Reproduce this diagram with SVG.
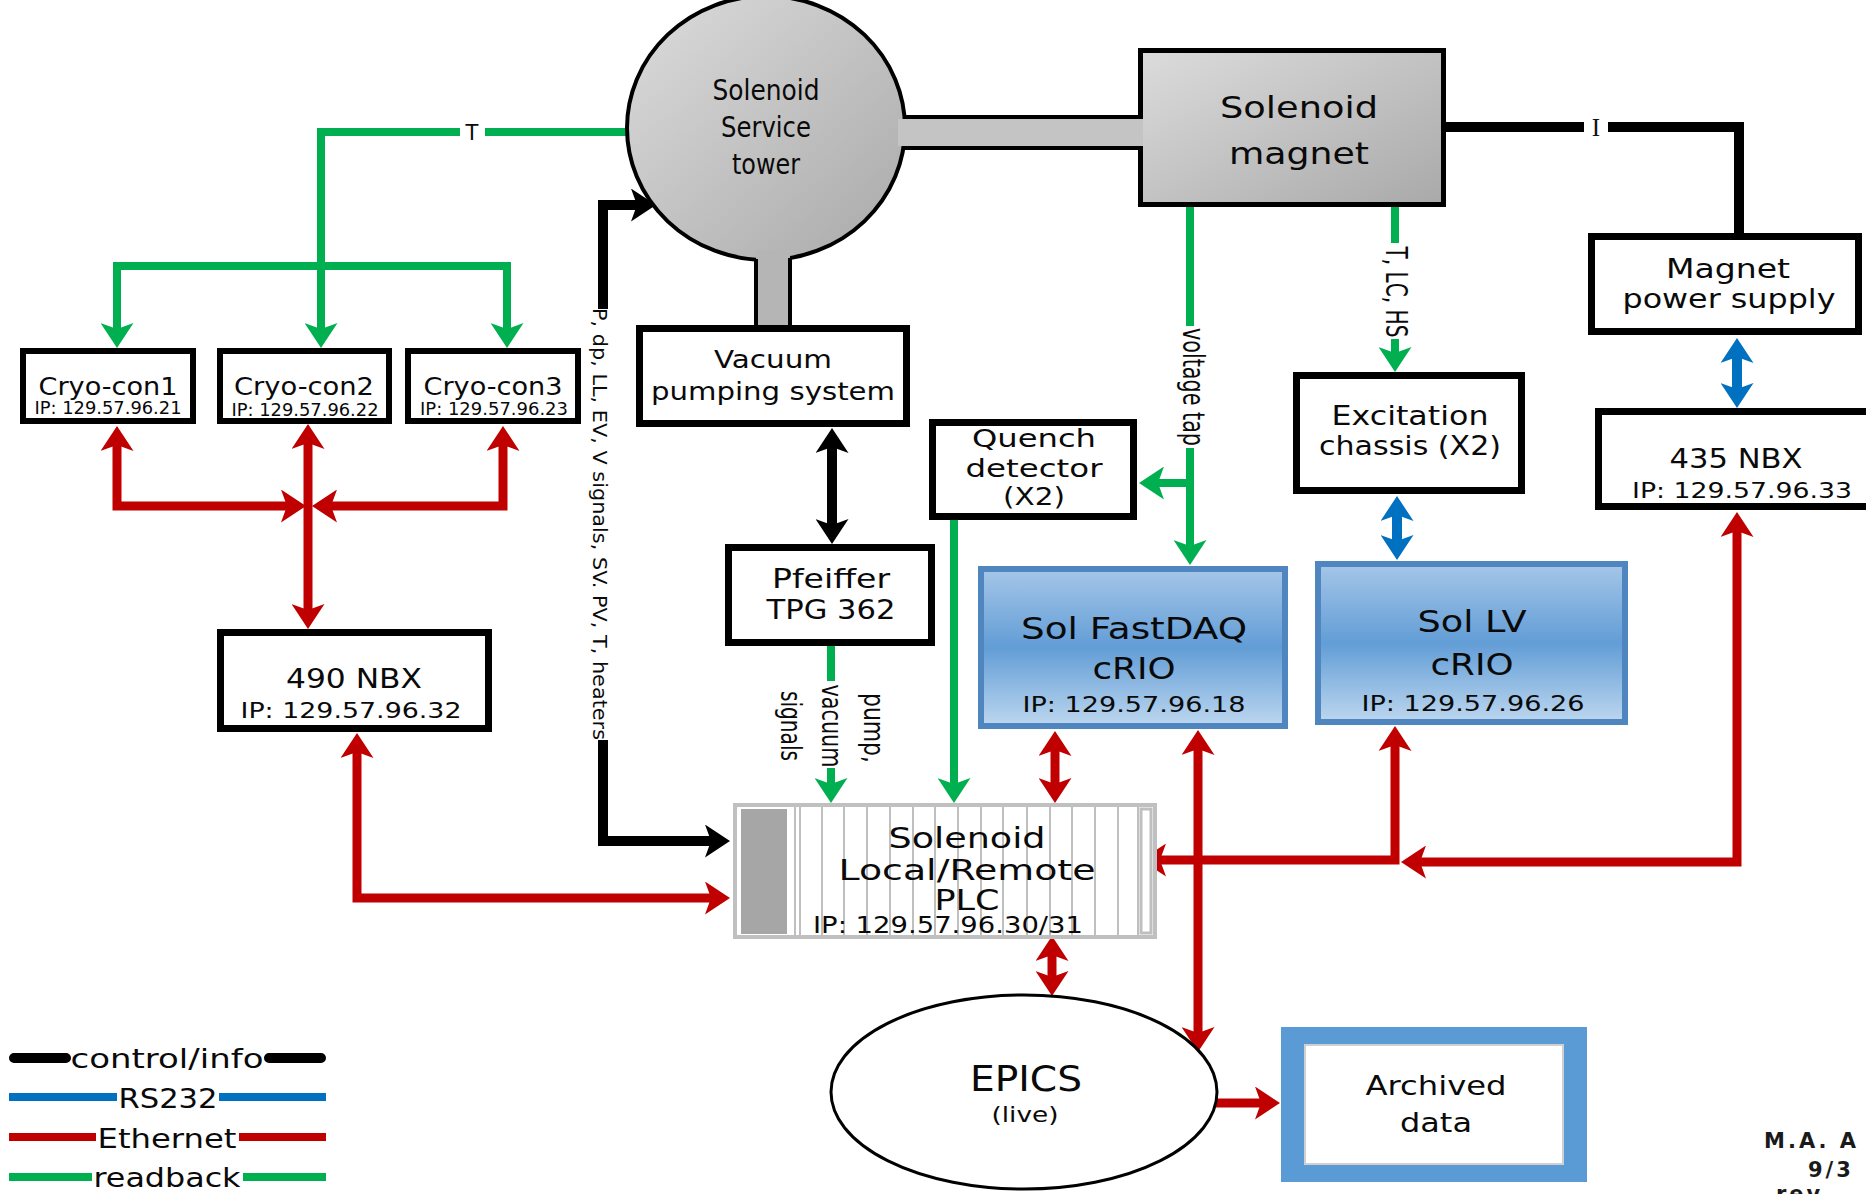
<svg xmlns="http://www.w3.org/2000/svg" width="1866" height="1194" viewBox="0 0 1866 1194">
<defs>
<linearGradient id="gGray" x1="0" y1="0" x2="1" y2="1"><stop offset="0" stop-color="#dcdcdc"/><stop offset="1" stop-color="#a9a9a9"/></linearGradient>
<linearGradient id="gBlue" x1="0" y1="0" x2="0" y2="1"><stop offset="0" stop-color="#a5c6e8"/><stop offset="0.5" stop-color="#629dd6"/><stop offset="1" stop-color="#bdd7ef"/></linearGradient>
<marker id="mK" viewBox="0 0 25 33" refX="11" refY="16.5" markerWidth="25" markerHeight="33" markerUnits="userSpaceOnUse" orient="auto-start-reverse"><path d="M0,0 L25,16.5 L0,33 L6,16.5 Z" fill="#000"/></marker>
<marker id="mR" viewBox="0 0 25 33" refX="11" refY="16.5" markerWidth="25" markerHeight="33" markerUnits="userSpaceOnUse" orient="auto-start-reverse"><path d="M0,0 L25,16.5 L0,33 L6,16.5 Z" fill="#c00000"/></marker>
<marker id="mG" viewBox="0 0 25 33" refX="11" refY="16.5" markerWidth="25" markerHeight="33" markerUnits="userSpaceOnUse" orient="auto-start-reverse"><path d="M0,0 L25,16.5 L0,33 L6,16.5 Z" fill="#00b050"/></marker>
<marker id="mB" viewBox="0 0 25 33" refX="11" refY="16.5" markerWidth="25" markerHeight="33" markerUnits="userSpaceOnUse" orient="auto-start-reverse"><path d="M0,0 L25,16.5 L0,33 L6,16.5 Z" fill="#0070c0"/></marker>
</defs>
<style>
.box{fill:#fff;stroke:#000;stroke-width:7}
.sbox{fill:#fff;stroke:#000;stroke-width:6}
.blue{fill:url(#gBlue);stroke:#4f86c0;stroke-width:6}
.t{font-family:"DejaVu Sans","Liberation Sans",sans-serif;fill:#0a0a0a;text-anchor:middle}
.c{fill:none;stroke-linejoin:miter}
.k{stroke:#000;stroke-width:10}
.r{stroke:#c00000;stroke-width:9}
.g{stroke:#00b050;stroke-width:8}
.b{stroke:#0070c0;stroke-width:10}
.stripe{stroke:#bfbfbf;stroke-width:2}
</style>
<rect width="1866" height="1194" fill="#fff"/>

<g id="connectors">
<path class="c g" d="M629,132 H485"/>
<path class="c g" d="M460,132 H321 V334" marker-end="url(#mG)"/>
<path class="c g" d="M117,334 V266 H507 V334" marker-start="url(#mG)" marker-end="url(#mG)"/>
<path class="c g" d="M1190,207 V326"/>
<path class="c g" d="M1190,448 V551" marker-end="url(#mG)"/>
<path class="c g" d="M1190,483 H1153" marker-end="url(#mG)"/>
<path class="c g" d="M1395,207 V243"/>
<path class="c g" d="M1395,339 V358" marker-end="url(#mG)"/>
<path class="c g" d="M954,520 V789" marker-end="url(#mG)"/>
<path class="c g" d="M831,646 V681"/>
<path class="c g" d="M831,768 V789" marker-end="url(#mG)"/>

<path class="c k" d="M832,442 V530" marker-start="url(#mK)" marker-end="url(#mK)"/>
<path class="c k" d="M603,309 V205 H642" marker-end="url(#mK)"/>
<path class="c k" d="M603,740 V841 H716" marker-end="url(#mK)"/>
<path class="c k" d="M1446,127 H1584"/>
<path class="c k" d="M1608,127 H1739 V235"/>

<path class="c r" d="M117,440 V506 H292" marker-start="url(#mR)" marker-end="url(#mR)"/>
<path class="c r" d="M503,440 V506 H326" marker-start="url(#mR)" marker-end="url(#mR)"/>
<path class="c r" d="M308,438 V615" marker-start="url(#mR)" marker-end="url(#mR)"/>
<path class="c r" d="M357,747 V898 H716" marker-start="url(#mR)" marker-end="url(#mR)"/>
<path class="c r" d="M1055,745 V789" marker-start="url(#mR)" marker-end="url(#mR)"/>
<path class="c r" d="M1052,950 V982" marker-start="url(#mR)" marker-end="url(#mR)"/>
<path class="c r" d="M1198,744 V1038" marker-start="url(#mR)" marker-end="url(#mR)"/>
<path class="c r" d="M1395,740 V860 H1155" marker-start="url(#mR)" marker-end="url(#mR)"/>
<path class="c r" d="M1737,526 V862 H1415" marker-start="url(#mR)" marker-end="url(#mR)"/>
<path class="c r" d="M1214,1103 H1266" marker-end="url(#mR)"/>

<path class="c b" d="M1737,352 V394" marker-start="url(#mB)" marker-end="url(#mB)"/>
<path class="c b" d="M1397,510 V546" marker-start="url(#mB)" marker-end="url(#mB)"/>

<text class="t" x="472" y="140" font-size="21">T</text>
<text x="1596" y="136" font-family="Liberation Serif,serif" font-size="25" text-anchor="middle" fill="#111">I</text>
<text class="t" font-size="20" textLength="432" lengthAdjust="spacingAndGlyphs" transform="translate(593,524) rotate(90)">P, dp, LL, EV, V signals, SV. PV, T, heaters</text>
<text class="t" font-size="20" textLength="118" lengthAdjust="spacingAndGlyphs" transform="translate(1183,387) rotate(90) scale(1,1.5)">voltage tap</text>
<text class="t" font-size="20" textLength="91" lengthAdjust="spacingAndGlyphs" transform="translate(1386,292) rotate(90) scale(1,1.5)">T, LC, HS</text>
<text class="t" font-size="20" textLength="70" lengthAdjust="spacingAndGlyphs" transform="translate(864,728) rotate(90) scale(1,1.4)">pump,</text>
<text class="t" font-size="20" textLength="83" lengthAdjust="spacingAndGlyphs" transform="translate(822,726) rotate(90) scale(1,1.4)">vacuum</text>
<text class="t" font-size="20" textLength="70" lengthAdjust="spacingAndGlyphs" transform="translate(781,726) rotate(90) scale(1,1.4)">signals</text>
</g>

<g id="service-tower">
<ellipse cx="766" cy="128" rx="139" ry="132" fill="url(#gGray)" stroke="#000" stroke-width="4"/>
</g>
<g id="solenoid-magnet">
<rect x="1140.5" y="50.5" width="303" height="154" fill="url(#gGray)" stroke="#000" stroke-width="5"/>
<text class="t" x="1299" y="118" font-size="31" textLength="158" lengthAdjust="spacingAndGlyphs">Solenoid</text>
<text class="t" x="1299" y="164" font-size="31" textLength="140" lengthAdjust="spacingAndGlyphs">magnet</text>
</g>
<g id="tower-links">
<rect x="898" y="119" width="245" height="27" fill="#c4c4c4"/>
<path d="M904,117 H1141 M903,148 H1141" stroke="#000" stroke-width="4" fill="none"/>
<rect x="756" y="250" width="34" height="78" fill="#b5b5b5"/>
<path d="M756,259 V326 M790,258 V326" stroke="#000" stroke-width="4" fill="none"/>
<text class="t" x="766" y="100" font-size="29" textLength="107" lengthAdjust="spacingAndGlyphs">Solenoid</text>
<text class="t" x="766" y="137" font-size="29" textLength="90" lengthAdjust="spacingAndGlyphs">Service</text>
<text class="t" x="766" y="174" font-size="29" textLength="68" lengthAdjust="spacingAndGlyphs">tower</text>
</g>

<g id="cryo-con1">
<rect class="sbox" x="23" y="351" width="170" height="70"/>
<text class="t" x="108" y="395" font-size="24" textLength="139" lengthAdjust="spacingAndGlyphs">Cryo-con1</text>
<text class="t" x="108" y="414" font-size="17" textLength="147" lengthAdjust="spacingAndGlyphs">IP: 129.57.96.21</text>
</g>
<g id="cryo-con2">
<rect class="sbox" x="220" y="351" width="169" height="70"/>
<text class="t" x="304" y="395" font-size="24" textLength="140" lengthAdjust="spacingAndGlyphs">Cryo-con2</text>
<text class="t" x="305" y="416" font-size="17" textLength="147" lengthAdjust="spacingAndGlyphs">IP: 129.57.96.22</text>
</g>
<g id="cryo-con3">
<rect class="sbox" x="408" y="351" width="170" height="70"/>
<text class="t" x="493" y="395" font-size="24" textLength="139" lengthAdjust="spacingAndGlyphs">Cryo-con3</text>
<text class="t" x="494" y="415" font-size="17" textLength="148" lengthAdjust="spacingAndGlyphs">IP: 129.57.96.23</text>
</g>
<g id="nbx490">
<rect class="box" x="220.5" y="632.5" width="268" height="96"/>
<text class="t" x="354" y="688" font-size="27" textLength="136" lengthAdjust="spacingAndGlyphs">490 NBX</text>
<text class="t" x="351" y="718" font-size="21" textLength="221" lengthAdjust="spacingAndGlyphs">IP: 129.57.96.32</text>
</g>
<g id="vacuum">
<rect class="box" x="639.5" y="328.5" width="267" height="95"/>
<text class="t" x="773" y="368" font-size="24" textLength="118" lengthAdjust="spacingAndGlyphs">Vacuum</text>
<text class="t" x="773" y="400" font-size="24" textLength="244" lengthAdjust="spacingAndGlyphs">pumping system</text>
</g>
<g id="quench">
<rect class="box" x="932.5" y="422.5" width="201" height="94"/>
<text class="t" x="1034" y="447" font-size="25" textLength="124" lengthAdjust="spacingAndGlyphs">Quench</text>
<text class="t" x="1034" y="477" font-size="25" textLength="137" lengthAdjust="spacingAndGlyphs">detector</text>
<text class="t" x="1034" y="505" font-size="25" textLength="62" lengthAdjust="spacingAndGlyphs">(X2)</text>
</g>
<g id="pfeiffer">
<rect class="box" x="728.5" y="547.5" width="203" height="95"/>
<text class="t" x="831" y="588" font-size="27" textLength="118" lengthAdjust="spacingAndGlyphs">Pfeiffer</text>
<text class="t" x="831" y="619" font-size="27" textLength="129" lengthAdjust="spacingAndGlyphs">TPG 362</text>
</g>
<g id="excitation">
<rect class="box" x="1296.5" y="375.5" width="225" height="115"/>
<text class="t" x="1410" y="425" font-size="26" textLength="157" lengthAdjust="spacingAndGlyphs">Excitation</text>
<text class="t" x="1410" y="455" font-size="26" textLength="182" lengthAdjust="spacingAndGlyphs">chassis (X2)</text>
</g>
<g id="magnet-ps">
<rect class="box" x="1591.5" y="236.5" width="267" height="95"/>
<text class="t" x="1728" y="278" font-size="26" textLength="124" lengthAdjust="spacingAndGlyphs">Magnet</text>
<text class="t" x="1729" y="308" font-size="26" textLength="213" lengthAdjust="spacingAndGlyphs">power supply</text>
</g>
<g id="nbx435">
<rect class="box" x="1598.5" y="411.5" width="290" height="95"/>
<text class="t" x="1736" y="468" font-size="27" textLength="133" lengthAdjust="spacingAndGlyphs">435 NBX</text>
<text class="t" x="1742" y="498" font-size="21" textLength="220" lengthAdjust="spacingAndGlyphs">IP: 129.57.96.33</text>
</g>
<g id="fastdaq">
<rect class="blue" x="981" y="569" width="304" height="157"/>
<text class="t" x="1134" y="639" font-size="30" textLength="226" lengthAdjust="spacingAndGlyphs">Sol FastDAQ</text>
<text class="t" x="1134" y="679" font-size="30" textLength="83" lengthAdjust="spacingAndGlyphs">cRIO</text>
<text class="t" x="1134" y="712" font-size="22" textLength="223" lengthAdjust="spacingAndGlyphs">IP: 129.57.96.18</text>
</g>
<g id="sol-lv">
<rect class="blue" x="1318" y="564" width="307" height="158"/>
<text class="t" x="1472" y="632" font-size="30" textLength="109" lengthAdjust="spacingAndGlyphs">Sol LV</text>
<text class="t" x="1472" y="675" font-size="30" textLength="83" lengthAdjust="spacingAndGlyphs">cRIO</text>
<text class="t" x="1473" y="711" font-size="22" textLength="223" lengthAdjust="spacingAndGlyphs">IP: 129.57.96.26</text>
</g>
<g id="plc">
<rect x="735" y="805" width="420" height="132" fill="#fff" stroke="#c0c0c0" stroke-width="4"/>
<rect x="741" y="809" width="46" height="125" fill="#a6a6a6"/>
<path class="stripe" d="M795,807 V935 M800,807 V935 M822,807 V935 M844,807 V935 M867,807 V935 M890,807 V935 M913,807 V935 M935,807 V935 M958,807 V935 M981,807 V935 M1003,807 V935 M1027,807 V935 M1050,807 V935 M1072,807 V935 M1095,807 V935 M1118,807 V935 M1138,807 V935"/>
<rect x="1141" y="809" width="10" height="124" fill="#fff" stroke="#bfbfbf" stroke-width="3"/>
<text class="t" x="967" y="848" font-size="29" textLength="157" lengthAdjust="spacingAndGlyphs">Solenoid</text>
<text class="t" x="967" y="880" font-size="29" textLength="257" lengthAdjust="spacingAndGlyphs">Local/Remote</text>
<text class="t" x="967" y="910" font-size="29" textLength="65" lengthAdjust="spacingAndGlyphs">PLC</text>
<text class="t" x="948" y="933" font-size="23" textLength="270" lengthAdjust="spacingAndGlyphs">IP: 129.57.96.30/31</text>
</g>
<g id="epics">
<ellipse cx="1024" cy="1092" rx="193" ry="97" fill="#fff" stroke="#000" stroke-width="3"/>
<text class="t" x="1026" y="1091" font-size="35" textLength="112" lengthAdjust="spacingAndGlyphs">EPICS</text>
<text class="t" x="1025" y="1122" font-size="21" textLength="67" lengthAdjust="spacingAndGlyphs">(live)</text>
</g>
<g id="archived">
<rect x="1281" y="1027" width="306" height="155" fill="#5b9bd5"/>
<rect x="1305" y="1045" width="258" height="119" fill="#fff" stroke="#d0d0d0" stroke-width="2"/>
<text class="t" x="1436" y="1095" font-size="27" textLength="141" lengthAdjust="spacingAndGlyphs">Archived</text>
<text class="t" x="1436" y="1132" font-size="27" textLength="72" lengthAdjust="spacingAndGlyphs">data</text>
</g>
<g id="legend">
<path d="M14,1058 H66 M269,1058 H321" stroke="#000" stroke-width="10" stroke-linecap="round" fill="none"/>
<path d="M9,1097 H117 M219,1097 H326" stroke="#0070c0" stroke-width="8" fill="none"/>
<path d="M9,1137 H96 M239,1137 H326" stroke="#c00000" stroke-width="8" fill="none"/>
<path d="M9,1177 H92 M243,1177 H326" stroke="#00b050" stroke-width="8" fill="none"/>
<text class="t" x="167" y="1068" font-size="26" textLength="193" lengthAdjust="spacingAndGlyphs">control/info</text>
<text class="t" x="168" y="1108" font-size="26" textLength="99" lengthAdjust="spacingAndGlyphs">RS232</text>
<text class="t" x="167" y="1148" font-size="26" textLength="139" lengthAdjust="spacingAndGlyphs">Ethernet</text>
<text class="t" x="167" y="1187" font-size="26" textLength="147" lengthAdjust="spacingAndGlyphs">readback</text>
</g>
<g id="author" font-family="DejaVu Sans,sans-serif" font-weight="bold" font-size="21" fill="#1a1a1a" letter-spacing="3">
<text x="1764" y="1148">M.A. A</text>
<text x="1808" y="1177">9/3</text>
<text x="1776" y="1201">rev</text>
</g>
</svg>
